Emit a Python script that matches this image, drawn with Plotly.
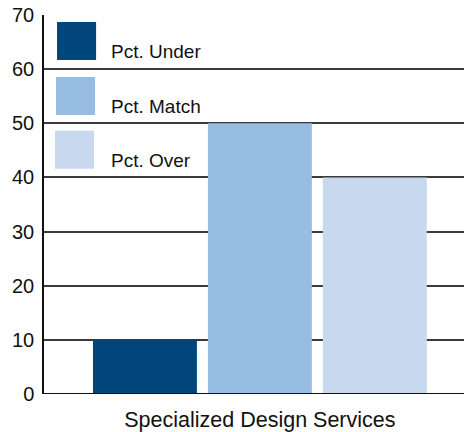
import plotly.graph_objects as go

# Data
category = ["Specialized Design Services"]
series_names = ["Pct. Under", "Pct. Match", "Pct. Over"]
series_values = [10, 50, 40]
series_colors = ["#00467a", "#97bde3", "#c8d9ef"]
y_ticks = [0, 10, 20, 30, 40, 50, 60, 70]

FONT = "Liberation Sans, Arial, sans-serif"

fig = go.Figure()
for name, val, col in zip(series_names, series_values, series_colors):
    fig.add_trace(go.Bar(
        x=category, y=[val], name=name,
        marker=dict(color=col, line=dict(width=0)),
        showlegend=False,
    ))

# Legend drawn as large swatches with labels, stacked top-left
sw_top = [68.7, 58.55, 48.6]
for i, (name, col) in enumerate(zip(series_names, series_colors)):
    top = sw_top[i]
    fig.add_shape(type="rect", xref="paper", yref="y",
                  x0=0.031 - 0.0024 * i, x1=0.124 - 0.0024 * i,
                  y0=top - 7.0, y1=top,
                  fillcolor=col, line=dict(width=0), layer="above")
    fig.add_annotation(xref="paper", yref="y", x=0.155, y=top - 5.4,
                       text=name, showarrow=False, xanchor="left",
                       yanchor="middle",
                       font=dict(family=FONT, size=19, color="#111111"))

fig.update_layout(
    width=464, height=432,
    margin=dict(l=44, r=0, t=15, b=38),
    paper_bgcolor="white", plot_bgcolor="white",
    barmode="group", bargap=0.179, bargroupgap=0.0957,
    font=dict(family=FONT, color="#111111"),
    xaxis=dict(
        range=[-0.514, 0.486],
        showgrid=False, showline=False, zeroline=False,
        ticks="", tickfont=dict(size=21.5, family=FONT),
        ticklabelstandoff=10,
    ),
    yaxis=dict(
        range=[0, 70], tickvals=y_ticks,
        showgrid=True, gridcolor="#3a3a3a", gridwidth=1.5,
        zeroline=False,
        showline=True, linecolor="#111111", linewidth=1.5,
        ticks="", tickfont=dict(size=20, family=FONT),
        ticklabelstandoff=4,
    ),
)
fig.add_hline(y=0, line=dict(color="#111111", width=2), layer="above")

fig.write_html("out.html")
